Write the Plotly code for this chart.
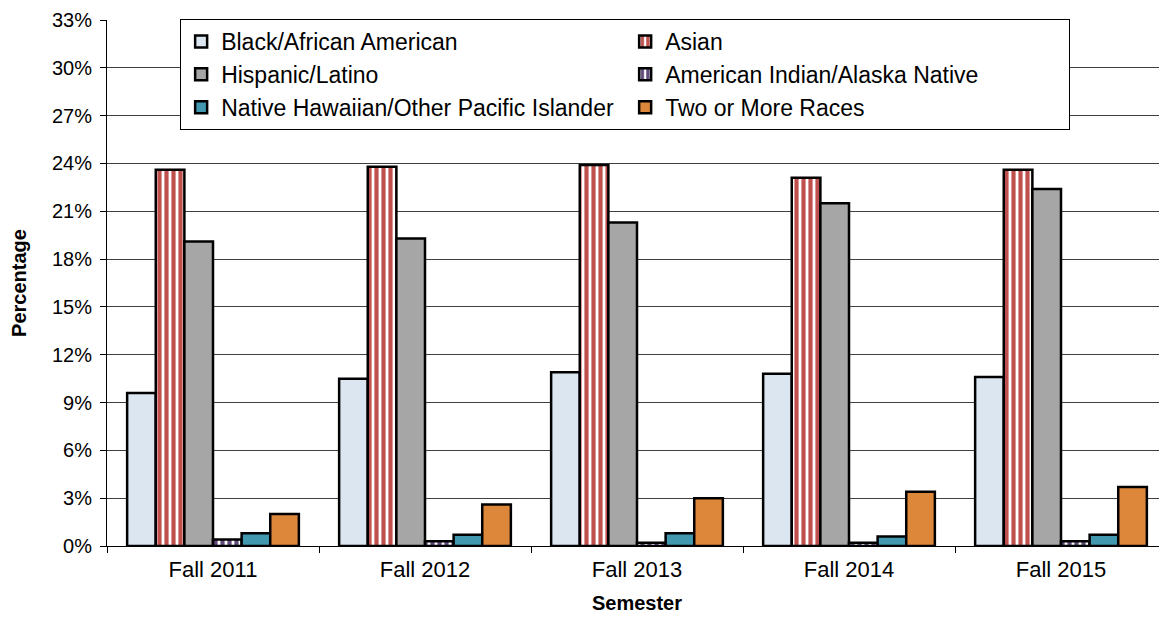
import plotly.graph_objects as go

semesters = ['Fall 2011', 'Fall 2012', 'Fall 2013', 'Fall 2014', 'Fall 2015']

black_aa = [9.6, 10.5, 10.9, 10.8, 10.6]
asian = [23.6, 23.8, 23.9, 23.1, 23.6]
hispanic = [19.1, 19.3, 20.3, 21.5, 22.4]
am_indian = [0.4, 0.3, 0.2, 0.2, 0.3]
hawaiian = [0.8, 0.7, 0.8, 0.6, 0.7]
two_more = [2.0, 2.6, 3.0, 3.4, 3.7]

FONT = 'Arial, Liberation Sans, sans-serif'
OUTLINE = dict(color='black', width=2.5)

series = [
    ('Black/African American', black_aa, dict(color='#DCE6F1', line=OUTLINE)),
    ('Asian', asian, dict(color='white', line=OUTLINE,
                          pattern=dict(shape='|', fgcolor='#C0504D', bgcolor='white',
                                       fgopacity=1, size=7, solidity=0.6))),
    ('Hispanic/Latino', hispanic, dict(color='#A6A6A6', line=OUTLINE)),
    ('American Indian/Alaska Native', am_indian, dict(color='white', line=OUTLINE,
                          pattern=dict(shape='|', fgcolor='#604A7B', bgcolor='white',
                                       fgopacity=1, size=7, solidity=0.6))),
    ('Native Hawaiian/Other Pacific Islander', hawaiian, dict(color='#4198AF', line=OUTLINE)),
    ('Two or More Races', two_more, dict(color='#DD873B', line=OUTLINE)),
]

fig = go.Figure()
for name, vals, marker in series:
    fig.add_trace(go.Bar(x=semesters, y=vals, name=name, marker=marker))

# page body adds an 8px margin, so the figure is 8px smaller than the window
fig.update_layout(
    width=1159, height=610,
    barmode='group', bargap=0.19, bargroupgap=0,
    plot_bgcolor='white', paper_bgcolor='white',
    font=dict(family=FONT, size=20, color='black'),
    margin=dict(l=99, r=0, t=12, b=72),
    legend=dict(
        orientation='h', x=0.069, y=1.002, xanchor='left', yanchor='top',
        entrywidth=399, entrywidthmode='pixels',
        bgcolor='white', bordercolor='black', borderwidth=1,
        font=dict(size=23, family=FONT),
        traceorder='normal',
    ),
)

fig.update_yaxes(
    range=[0, 33.001], tick0=0, dtick=3, ticksuffix='%', automargin=False,
    ticklabeloverflow='allow',
    showgrid=True, gridcolor='#404040', gridwidth=1,
    showline=True, linecolor='black', linewidth=1,
    ticks='outside', ticklen=6, tickcolor='black', ticklabelstandoff=4,
    tickfont=dict(size=20),
    title=dict(text='<b>Percentage</b>', font=dict(size=20), standoff=22),
    zeroline=False,
)
fig.update_xaxes(
    showline=True, linecolor='black', linewidth=1, automargin=False,
    ticks='outside', tickson='boundaries', ticklen=6, tickcolor='black',
    ticklabelstandoff=4,
    tickfont=dict(size=22),
    title=dict(text='<b>Semester</b>', font=dict(size=20), standoff=14),
)

fig.write_html('out.html')
